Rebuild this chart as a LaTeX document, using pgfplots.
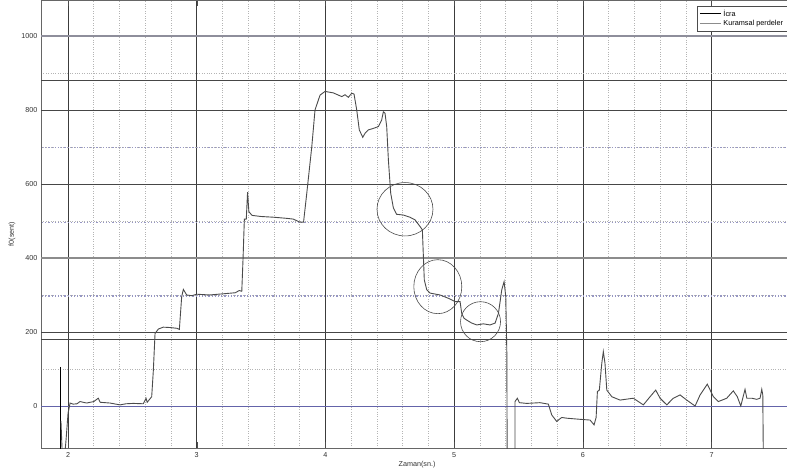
\documentclass[border=0pt]{standalone}
\usepackage{pgfplots}
\pgfplotsset{compat=1.18}
\usepackage{fontspec}
\setmainfont{Liberation Sans}
\definecolor{curve}{RGB}{75,75,75}
\definecolor{darkline}{RGB}{70,70,70}
\definecolor{thickgray}{RGB}{142,142,155}
\definecolor{midgray}{RGB}{140,140,140}
\definecolor{zeroblue}{RGB}{100,100,170}
\definecolor{bluedot}{RGB}{150,150,195}
\definecolor{griddot}{RGB}{180,180,180}
\definecolor{vgrid}{RGB}{60,60,60}
\begin{document}
\begin{tikzpicture}
\begin{axis}[
  at={(0pt,0pt)}, anchor=south west,
  scale only axis, width=786.4pt, height=448pt,
  xmin=1.79, xmax=7.9, ymin=-113.5, ymax=1097,
  xtick={2,3,4,5,6,7}, ytick={0,200,400,600,800,1000},
  minor x tick num=4, minor y tick num=1,
  xmajorgrids=true, xminorgrids=true, yminorgrids=true, ymajorgrids=false,
  major x grid style={vgrid, line width=0.7pt},
  minor grid style={griddot, dotted, line width=0.6pt},
  tick align=inside, major tick length=6pt, minor tick length=0pt,
  tick style={black!70},
  axis line style={black!60, line width=0.6pt},
  /pgf/number format/assume math mode=true,
  /pgf/number format/set thousands separator={},
  ticklabel style={font=\fontsize{7.2}{8}\selectfont, text=black!80},
  xticklabel style={yshift=-1pt},
  xlabel={Zaman(sn.)}, ylabel={f0(sent)},
  label style={font=\fontsize{7.2}{8}\selectfont, text=black!80},
  xlabel style={at={(axis cs:4.712,-159.5)}, anchor=center},
  ylabel style={at={(axis cs:1.565,465)}, anchor=center},
  legend style={at={(axis cs:6.887,1081)}, anchor=north west,
    font=\fontsize{7.3}{9}\selectfont, draw=black!70, fill=white,
    inner xsep=2pt, inner ysep=1.5pt, row sep=-1pt, line width=0.5pt},
  legend cell align=left,
  legend image code/.code={\draw[#1] (0pt,0pt) -- (21pt,0pt);},
]
\addlegendimage{black, line width=0.6pt}
\addlegendentry{İcra}
\addlegendimage{midgray, line width=1.2pt}
\addlegendentry{Kuramsal perdeler\hspace*{10pt}}
% theoretical pitch lines
\addplot[thickgray, line width=2pt, forget plot] coordinates {(1.5,1000) (8,1000)};
\addplot[darkline, line width=0.8pt, forget plot] coordinates {(1.5,881) (8,881)};
\addplot[darkline, line width=0.8pt, forget plot] coordinates {(1.5,800) (8,800)};
\addplot[bluedot, dotted, line width=1.2pt, forget plot] coordinates {(1.5,698) (8,698)};
\addplot[darkline, line width=0.8pt, forget plot] coordinates {(1.5,600) (8,600)};
\addplot[bluedot, dotted, line width=1.2pt, forget plot] coordinates {(1.5,496) (8,496)};
\addplot[midgray, line width=1.2pt, forget plot] coordinates {(1.5,400) (8,400)};
\addplot[bluedot, dotted, line width=1.2pt, forget plot] coordinates {(1.5,297) (8,297)};
\addplot[darkline, line width=0.8pt, forget plot] coordinates {(1.5,200) (8,200)};
\addplot[darkline, line width=0.8pt, forget plot] coordinates {(1.5,181) (8,181)};
\addplot[zeroblue, line width=0.9pt, forget plot] coordinates {(1.5,0) (8,0)};
% performance curve
\addplot[black, line width=0.8pt, forget plot] coordinates {(1.94,106) (1.94,-130)};
\addplot[curve, line width=0.9pt, forget plot] coordinates {
(1.945,-40) (1.955,-130) (1.975,-130) (1.985,-90) (2.0,-20) (2.016,8) (2.04,5) (2.07,6)
(2.093,12) (2.145,8) (2.2,12) (2.235,21) (2.25,10) (2.326,8) (2.404,3) (2.45,6) (2.507,7)
(2.585,6) (2.606,21) (2.615,10) (2.65,25) (2.663,97) (2.676,196) (2.702,208) (2.74,213)
(2.793,212) (2.845,210) (2.865,207) (2.883,295) (2.896,315) (2.922,300) (2.961,298)
(3.0,302) (3.1,300) (3.2,303) (3.3,306) (3.33,312) (3.35,310) (3.36,400) (3.37,505)
(3.385,505) (3.395,578) (3.405,525) (3.43,515) (3.5,512) (3.6,510) (3.7,507) (3.75,505)
(3.8,497) (3.83,497) (3.855,575) (3.894,701) (3.919,800) (3.958,840) (3.997,850)
(4.061,846) (4.127,836) (4.152,841) (4.178,834) (4.204,845) (4.222,843) (4.243,800)
(4.263,746) (4.29,726) (4.308,737) (4.333,746) (4.372,750) (4.411,755) (4.437,773)
(4.45,795) (4.463,791) (4.476,755) (4.489,665) (4.507,575) (4.528,535) (4.553,518)
(4.605,516) (4.657,510) (4.696,503) (4.735,485) (4.753,476) (4.76,413) (4.768,341)
(4.787,314) (4.813,305) (4.89,300) (4.955,291) (5.007,282) (5.046,282) (5.059,250)
(5.077,237) (5.098,232) (5.137,224) (5.176,219) (5.227,222) (5.279,219) (5.318,224)
(5.344,250) (5.37,314) (5.388,336) (5.401,296) (5.409,151) (5.412,-130)
(5.473,-130) (5.473,12)
(5.491,21) (5.507,9) (5.564,7) (5.667,9) (5.732,5) (5.758,-24) (5.797,-42) (5.817,-36)
(5.836,-31) (5.875,-33) (5.978,-36) (6.056,-38) (6.087,-51) (6.103,-31) (6.113,39)
(6.128,43) (6.147,115) (6.159,147) (6.172,115) (6.186,43) (6.225,25) (6.289,16)
(6.392,21) (6.47,3) (6.522,25) (6.566,43) (6.6,21) (6.652,3) (6.703,21) (6.755,30)
(6.807,16) (6.872,0) (6.911,30) (6.967,59) (7.014,25) (7.053,12) (7.118,21) (7.169,41)
(7.2,25) (7.227,0) (7.26,45) (7.274,21) (7.313,21) (7.351,18) (7.377,21) (7.39,45)
(7.398,30) (7.402,-130)
};
% annotation circles
\draw[curve, line width=0.6pt] (axis cs:4.618,531.6) ellipse [x radius=28pt, y radius=26.7pt];
\draw[curve, line width=0.6pt] (axis cs:4.873,322.4) ellipse [x radius=24pt, y radius=27pt];
\draw[curve, line width=0.6pt] (axis cs:5.205,227.8) ellipse [x radius=20pt, y radius=20pt];
\end{axis}
\pgfresetboundingbox
\useasboundingbox (-41pt,-26pt) rectangle (746pt,448pt);
\end{tikzpicture}
\end{document}
